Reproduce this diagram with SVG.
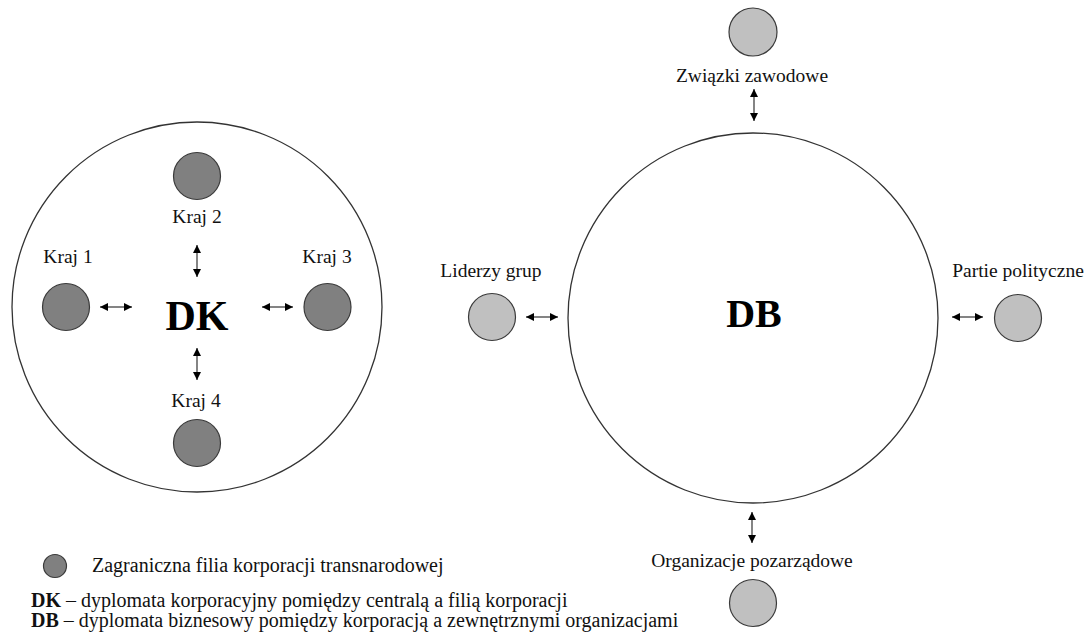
<svg xmlns="http://www.w3.org/2000/svg" width="1091" height="634" viewBox="0 0 1091 634">
<style>
.big{fill:#ffffff;stroke:#333333;stroke-width:1.3}
.dark{fill:#808080;stroke:#3a3a3a;stroke-width:1.2}
.light{fill:#c0c0c0;stroke:#3a3a3a;stroke-width:1.2}
.lbl{font-family:"Liberation Serif","Times New Roman",serif;font-size:19.5px;fill:#111111;text-anchor:middle}
.leg{font-family:"Liberation Serif","Times New Roman",serif;font-size:20px;fill:#111111}
.head{font-family:"Liberation Serif","Times New Roman",serif;font-weight:bold;fill:#000000;text-anchor:middle}
.arr{stroke:#333333;stroke-width:1.2;fill:none;marker-start:url(#ah);marker-end:url(#ah)}
</style>
<defs>
<marker id="ah" viewBox="0 0 10 10" refX="10" refY="5" markerUnits="userSpaceOnUse" markerWidth="9" markerHeight="8" orient="auto-start-reverse">
<path d="M0,0 L10,5 L0,10 z" fill="#000000"/>
</marker>
</defs>
<rect width="1091" height="634" fill="#ffffff"/>

<g id="dk-circle">
<circle class="big" cx="197" cy="307" r="185"/>
<text class="head" x="197" y="330" font-size="42">DK</text>
</g>
<g id="db-circle">
<circle class="big" cx="753" cy="318" r="185"/>
<text class="head" x="754" y="327" font-size="40">DB</text>
</g>

<g id="kraj1">
<circle class="dark" cx="66" cy="307" r="23.5"/>
<text class="lbl" x="68" y="263">Kraj 1</text>
</g>
<g id="kraj2">
<circle class="dark" cx="197" cy="176" r="23.5"/>
<text class="lbl" x="197" y="223">Kraj 2</text>
</g>
<g id="kraj3">
<circle class="dark" cx="327.5" cy="307" r="23.5"/>
<text class="lbl" x="327" y="263">Kraj 3</text>
</g>
<g id="kraj4">
<circle class="dark" cx="197" cy="443" r="23.5"/>
<text class="lbl" x="196" y="407">Kraj 4</text>
</g>

<g id="zwiazki">
<circle class="light" cx="753" cy="32" r="24"/>
<text class="lbl" x="752" y="82">Związki zawodowe</text>
</g>
<g id="liderzy">
<circle class="light" cx="492" cy="317" r="23.5"/>
<text class="lbl" x="491" y="277">Liderzy grup</text>
</g>
<g id="partie">
<circle class="light" cx="1018" cy="318" r="23.5"/>
<text class="lbl" x="1018" y="277">Partie polityczne</text>
</g>
<g id="organizacje">
<circle class="light" cx="753" cy="603" r="23.5"/>
<text class="lbl" x="752" y="567">Organizacje pozarządowe</text>
</g>

<g id="connectors">
<line class="arr" x1="197" y1="245" x2="197" y2="277"/>
<line class="arr" x1="197" y1="348" x2="197" y2="380"/>
<line class="arr" x1="100" y1="307" x2="132" y2="307"/>
<line class="arr" x1="262" y1="307" x2="293" y2="307"/>
<line class="arr" x1="754" y1="89" x2="754" y2="121"/>
<line class="arr" x1="752" y1="512" x2="752" y2="543"/>
<line class="arr" x1="526" y1="317" x2="558" y2="317"/>
<line class="arr" x1="952" y1="317" x2="983" y2="317"/>
</g>

<g id="legend">
<circle class="dark" cx="55" cy="566" r="11.5"/>
<text class="leg" x="92" y="572">Zagraniczna filia korporacji transnarodowej</text>
<text class="leg" x="31" y="607"><tspan font-weight="bold">DK</tspan> – dyplomata korporacyjny pomiędzy centralą a filią korporacji</text>
<text class="leg" x="31" y="627"><tspan font-weight="bold">DB</tspan> – dyplomata biznesowy pomiędzy korporacją a zewnętrznymi organizacjami</text>
</g>
</svg>
